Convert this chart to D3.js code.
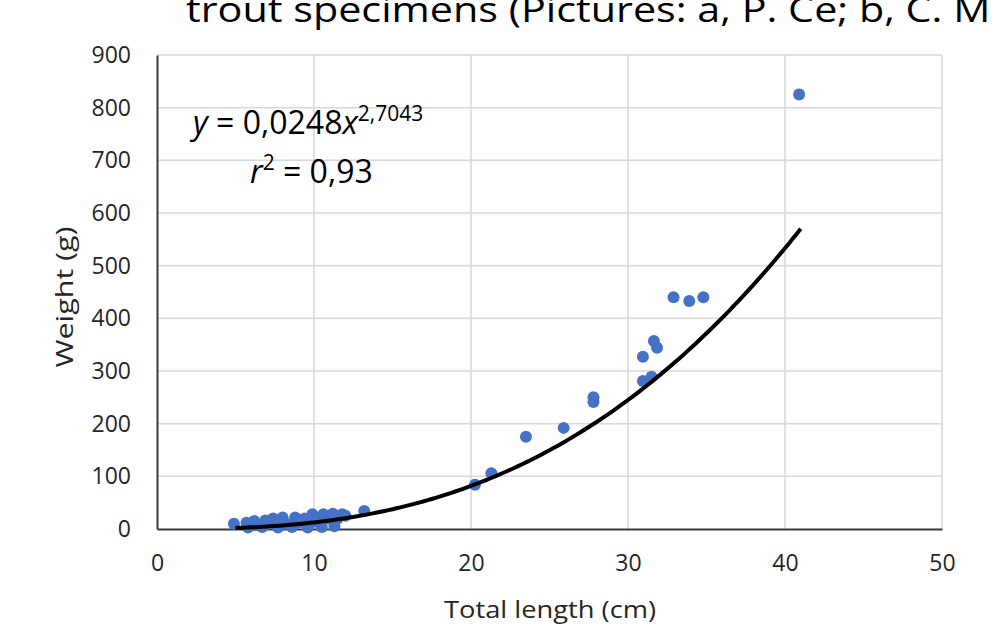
<!DOCTYPE html>
<html><head><meta charset="utf-8">
<script src="https://cdn.jsdelivr.net/npm/d3@7"></script>
<style>body{margin:0;background:#fff;overflow:hidden}svg{display:block}</style>
</head><body>
<svg id="c" width="992" height="630"></svg>
<script>
// ---- data ----
const lengthsCm = [4.9,5.7,5.8,6.2,6.3,6.7,6.9,7.0,7.4,7.6,7.7,8.0,8.2,8.6,8.8,9.0,9.3,9.4,9.6,9.9,10.0,10.3,10.5,10.6,10.9,11.2,11.3,11.5,11.8,12.0,13.2,
  20.25,21.3,23.5,25.9,27.8,27.8,30.95,30.95,31.5,31.65,31.85,32.9,33.9,34.8,40.9];
const weightsG = [10,12,3,15,7,4,16,9,20,8,3,22,10,4,22,12,15,20,3,28,14,18,4,28,20,29,5,20,28,25,34,
  84,106,175,192,250,241,327,281,289,357,344,440,433,440,825];
const xTicks = [0,10,20,30,40,50];
const yTicks = [0,100,200,300,400,500,600,700,800,900];
const fitA = 0.0248, fitB = 2.7043, fitXmin = 5, fitXmax = 41;
const titleText = "trout specimens (Pictures: a, P. Ce; b, C. M";
const xTitle = "Total length (cm)";
const yTitle = "Weight (g)";

// ---- layout ----
const svg = d3.select("#c");
const FONT = "'Open Sans', sans-serif";
const x = d3.scaleLinear().domain([0,50]).range([157,942]);
const y = d3.scaleLinear().domain([0,900]).range([529,55]);

function fit(sel, w){ sel.attr("textLength", w).attr("lengthAdjust","spacingAndGlyphs"); return sel; }

// title (clipped at right edge, as in the reference)
const t = svg.append("text").attr("x",186).attr("y",22).attr("font-family",FONT)
  .attr("font-size",34).attr("fill","#000").text("trout specimens");
const partW = t.node().getComputedTextLength();
t.text(titleText);
const fullW = t.node().getComputedTextLength();
fit(t, fullW*312/partW);

// gridlines
const g = svg.append("g");
g.selectAll(".hg").data(yTicks.filter(d=>d>0)).join("line")
  .attr("x1",x(0)).attr("x2",x(50)).attr("y1",d=>y(d)).attr("y2",d=>y(d))
  .attr("stroke","#d9d9d9").attr("stroke-width",1.5);
g.selectAll(".vg").data(xTicks.filter(d=>d>0)).join("line")
  .attr("x1",d=>x(d)).attr("x2",d=>x(d)).attr("y1",y(0)).attr("y2",y(900))
  .attr("stroke","#d9d9d9").attr("stroke-width",1.5);

// axes
const xAxis = svg.append("g").attr("transform",`translate(0,${y(0)})`)
  .call(d3.axisBottom(x).tickValues(xTicks).tickSize(0).tickPadding(26));
const yAxis = svg.append("g").attr("transform",`translate(${x(0)},0)`)
  .call(d3.axisLeft(y).tickValues(yTicks).tickSize(0).tickPadding(26));
[xAxis,yAxis].forEach(a=>{
  a.select(".domain").attr("stroke","#3a3a3a").attr("stroke-width",2);
  a.selectAll("text").attr("font-family",FONT).attr("font-size",23).attr("fill","#262626");
});
xAxis.selectAll("text").attr("dy","0.71em").attr("y",26);

// axis titles
fit(svg.append("text").attr("x",550).attr("y",618).attr("text-anchor","middle")
  .attr("font-family",FONT).attr("font-size",23).attr("fill","#262626").text(xTitle), 212);
fit(svg.append("text").attr("transform","translate(73,297) rotate(-90)").attr("text-anchor","middle")
  .attr("font-family",FONT).attr("font-size",24).attr("fill","#262626").text(yTitle), 141);

// points
svg.append("g").selectAll("circle").data(lengthsCm.map((d,i)=>[d,weightsG[i]])).join("circle")
  .attr("cx",d=>x(d[0])).attr("cy",d=>y(d[1])).attr("r",6).attr("fill","#4472c4");

// trendline from displayed equation
const fx = d3.range(fitXmin, fitXmax+0.001, 0.25);
svg.append("path").datum(fx)
  .attr("d", d3.line().x(d=>x(d)).y(d=>y(fitA*Math.pow(d,fitB))))
  .attr("fill","none").attr("stroke","#000").attr("stroke-width",4);

// equation
const eq = svg.append("text").attr("x",193).attr("y",134).attr("font-family",FONT)
  .attr("font-size",32).attr("fill","#000");
eq.append("tspan").attr("font-style","italic").text("y");
eq.append("tspan").text(" = 0,0248");
eq.append("tspan").attr("font-style","italic").text("x");
eq.append("tspan").attr("font-size",21).attr("dy",-13).text("2,7043");
const eq2 = svg.append("text").attr("x",250).attr("y",183).attr("font-family",FONT)
  .attr("font-size",32).attr("fill","#000");
eq2.append("tspan").attr("font-style","italic").text("r");
eq2.append("tspan").attr("font-size",21).attr("dy",-13).text("2");
eq2.append("tspan").attr("dy",13).text(" = 0,93");
</script>
</body></html>
